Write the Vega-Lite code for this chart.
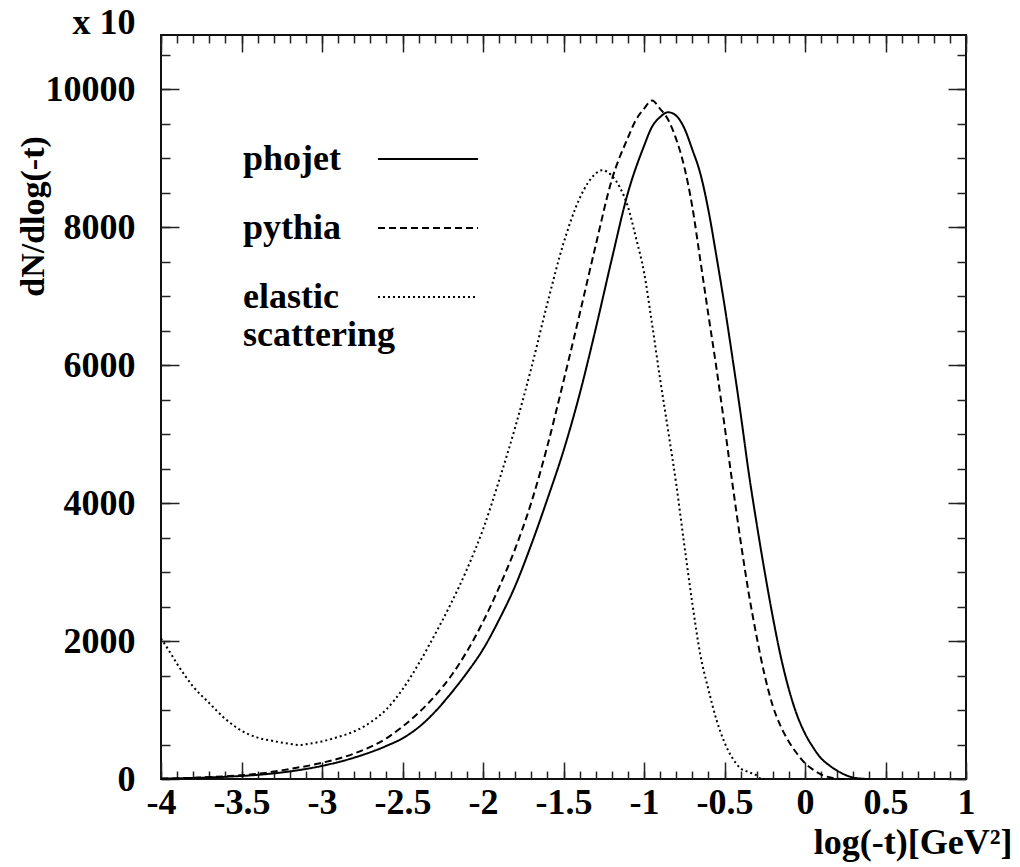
{
  "$schema": "https://vega.github.io/schema/vega-lite/v6.json",
  "width": 805,
  "height": 744,
  "autosize": {"type": "none"},
  "padding": {"left": 161, "top": 35, "right": 54, "bottom": 88},
  "background": "white",
  "config": {
    "view": {"stroke": "#111", "strokeWidth": 2},
    "axis": {
      "grid": false, "domain": false, "labelFlush": false, "labelOverlap": false,
      "labelFont": "Liberation Serif", "labelFontWeight": "bold", "labelFontSize": 36, "labelColor": "black",
      "tickColor": "#222", "tickWidth": 1.5,
      "titleFont": "Liberation Serif", "titleFontWeight": "bold", "titleFontSize": 34, "titleColor": "black"
    },
    "legend": {
      "orient": "none", "legendX": 216, "legendY": 73, "padding": 0,
      "symbolType": "stroke", "symbolSize": 10000, "symbolStrokeWidth": 2, "symbolStrokeColor": "black",
      "labelFont": "Liberation Serif", "labelFontWeight": "bold", "labelFontSize": 36, "labelColor": "black",
      "labelAlign": "left", "labelBaseline": "middle", "labelOffset": -236, "labelLimit": 0, "rowPadding": 0
    }
  },
  "data": {"values": [
    {"model": "phojet", "t": -4.0, "n": 5}, {"model": "phojet", "t": -3.8, "n": 15}, {"model": "phojet", "t": -3.6, "n": 32},
    {"model": "phojet", "t": -3.4, "n": 60}, {"model": "phojet", "t": -3.2, "n": 110}, {"model": "phojet", "t": -3.0, "n": 190},
    {"model": "phojet", "t": -2.8, "n": 310}, {"model": "phojet", "t": -2.6, "n": 480}, {"model": "phojet", "t": -2.5, "n": 590},
    {"model": "phojet", "t": -2.4, "n": 750}, {"model": "phojet", "t": -2.3, "n": 970}, {"model": "phojet", "t": -2.2, "n": 1240},
    {"model": "phojet", "t": -2.1, "n": 1540}, {"model": "phojet", "t": -2.0, "n": 1880}, {"model": "phojet", "t": -1.9, "n": 2310},
    {"model": "phojet", "t": -1.8, "n": 2800}, {"model": "phojet", "t": -1.7, "n": 3400}, {"model": "phojet", "t": -1.6, "n": 4060},
    {"model": "phojet", "t": -1.5, "n": 4760}, {"model": "phojet", "t": -1.4, "n": 5580}, {"model": "phojet", "t": -1.3, "n": 6530},
    {"model": "phojet", "t": -1.2, "n": 7540}, {"model": "phojet", "t": -1.1, "n": 8500}, {"model": "phojet", "t": -1.0, "n": 9180},
    {"model": "phojet", "t": -0.95, "n": 9460}, {"model": "phojet", "t": -0.9, "n": 9600}, {"model": "phojet", "t": -0.85, "n": 9670},
    {"model": "phojet", "t": -0.8, "n": 9620}, {"model": "phojet", "t": -0.75, "n": 9440}, {"model": "phojet", "t": -0.7, "n": 9130},
    {"model": "phojet", "t": -0.65, "n": 8780}, {"model": "phojet", "t": -0.6, "n": 8250}, {"model": "phojet", "t": -0.55, "n": 7580},
    {"model": "phojet", "t": -0.5, "n": 6870}, {"model": "phojet", "t": -0.45, "n": 6100}, {"model": "phojet", "t": -0.4, "n": 5300},
    {"model": "phojet", "t": -0.35, "n": 4450}, {"model": "phojet", "t": -0.3, "n": 3700}, {"model": "phojet", "t": -0.25, "n": 3000},
    {"model": "phojet", "t": -0.2, "n": 2350}, {"model": "phojet", "t": -0.15, "n": 1770}, {"model": "phojet", "t": -0.1, "n": 1300},
    {"model": "phojet", "t": -0.05, "n": 930}, {"model": "phojet", "t": 0.0, "n": 660}, {"model": "phojet", "t": 0.05, "n": 460},
    {"model": "phojet", "t": 0.1, "n": 300}, {"model": "phojet", "t": 0.15, "n": 200}, {"model": "phojet", "t": 0.2, "n": 120},
    {"model": "phojet", "t": 0.25, "n": 60}, {"model": "phojet", "t": 0.3, "n": 20}, {"model": "phojet", "t": 0.35, "n": 5},
    {"model": "phojet", "t": 0.4, "n": 0},

    {"model": "pythia", "t": -4.0, "n": 5}, {"model": "pythia", "t": -3.8, "n": 18}, {"model": "pythia", "t": -3.6, "n": 40},
    {"model": "pythia", "t": -3.4, "n": 75}, {"model": "pythia", "t": -3.2, "n": 145}, {"model": "pythia", "t": -3.0, "n": 235},
    {"model": "pythia", "t": -2.8, "n": 370}, {"model": "pythia", "t": -2.6, "n": 590}, {"model": "pythia", "t": -2.5, "n": 760},
    {"model": "pythia", "t": -2.4, "n": 960}, {"model": "pythia", "t": -2.3, "n": 1200}, {"model": "pythia", "t": -2.2, "n": 1490},
    {"model": "pythia", "t": -2.1, "n": 1850}, {"model": "pythia", "t": -2.0, "n": 2280}, {"model": "pythia", "t": -1.9, "n": 2780},
    {"model": "pythia", "t": -1.8, "n": 3340}, {"model": "pythia", "t": -1.7, "n": 4010}, {"model": "pythia", "t": -1.6, "n": 4830},
    {"model": "pythia", "t": -1.5, "n": 5770}, {"model": "pythia", "t": -1.4, "n": 6740}, {"model": "pythia", "t": -1.3, "n": 7740},
    {"model": "pythia", "t": -1.2, "n": 8690}, {"model": "pythia", "t": -1.1, "n": 9300}, {"model": "pythia", "t": -1.05, "n": 9560},
    {"model": "pythia", "t": -1.0, "n": 9720}, {"model": "pythia", "t": -0.95, "n": 9840}, {"model": "pythia", "t": -0.9, "n": 9720},
    {"model": "pythia", "t": -0.85, "n": 9560}, {"model": "pythia", "t": -0.8, "n": 9280}, {"model": "pythia", "t": -0.75, "n": 8880},
    {"model": "pythia", "t": -0.7, "n": 8300}, {"model": "pythia", "t": -0.65, "n": 7520}, {"model": "pythia", "t": -0.6, "n": 6730},
    {"model": "pythia", "t": -0.55, "n": 5960}, {"model": "pythia", "t": -0.5, "n": 5130}, {"model": "pythia", "t": -0.45, "n": 4270},
    {"model": "pythia", "t": -0.4, "n": 3450}, {"model": "pythia", "t": -0.35, "n": 2700}, {"model": "pythia", "t": -0.3, "n": 2060},
    {"model": "pythia", "t": -0.25, "n": 1500}, {"model": "pythia", "t": -0.2, "n": 1060}, {"model": "pythia", "t": -0.15, "n": 760},
    {"model": "pythia", "t": -0.1, "n": 540}, {"model": "pythia", "t": -0.05, "n": 370}, {"model": "pythia", "t": 0.0, "n": 230},
    {"model": "pythia", "t": 0.05, "n": 135}, {"model": "pythia", "t": 0.1, "n": 65}, {"model": "pythia", "t": 0.15, "n": 25},
    {"model": "pythia", "t": 0.2, "n": 5}, {"model": "pythia", "t": 0.25, "n": 0},

    {"model": "elastic scattering", "t": -4.0, "n": 2040}, {"model": "elastic scattering", "t": -3.95, "n": 1860},
    {"model": "elastic scattering", "t": -3.9, "n": 1670}, {"model": "elastic scattering", "t": -3.8, "n": 1340},
    {"model": "elastic scattering", "t": -3.7, "n": 1100}, {"model": "elastic scattering", "t": -3.6, "n": 870},
    {"model": "elastic scattering", "t": -3.5, "n": 700}, {"model": "elastic scattering", "t": -3.4, "n": 600},
    {"model": "elastic scattering", "t": -3.3, "n": 550}, {"model": "elastic scattering", "t": -3.2, "n": 510},
    {"model": "elastic scattering", "t": -3.14, "n": 493}, {"model": "elastic scattering", "t": -3.1, "n": 505},
    {"model": "elastic scattering", "t": -3.0, "n": 545}, {"model": "elastic scattering", "t": -2.9, "n": 610},
    {"model": "elastic scattering", "t": -2.8, "n": 690}, {"model": "elastic scattering", "t": -2.7, "n": 820},
    {"model": "elastic scattering", "t": -2.6, "n": 1010}, {"model": "elastic scattering", "t": -2.5, "n": 1300},
    {"model": "elastic scattering", "t": -2.4, "n": 1670}, {"model": "elastic scattering", "t": -2.3, "n": 2090},
    {"model": "elastic scattering", "t": -2.2, "n": 2540}, {"model": "elastic scattering", "t": -2.1, "n": 3040},
    {"model": "elastic scattering", "t": -2.0, "n": 3620}, {"model": "elastic scattering", "t": -1.9, "n": 4330},
    {"model": "elastic scattering", "t": -1.8, "n": 5100}, {"model": "elastic scattering", "t": -1.7, "n": 5960},
    {"model": "elastic scattering", "t": -1.6, "n": 6900}, {"model": "elastic scattering", "t": -1.5, "n": 7770},
    {"model": "elastic scattering", "t": -1.4, "n": 8420}, {"model": "elastic scattering", "t": -1.3, "n": 8780},
    {"model": "elastic scattering", "t": -1.26, "n": 8830}, {"model": "elastic scattering", "t": -1.2, "n": 8750},
    {"model": "elastic scattering", "t": -1.15, "n": 8580}, {"model": "elastic scattering", "t": -1.1, "n": 8300},
    {"model": "elastic scattering", "t": -1.05, "n": 7850}, {"model": "elastic scattering", "t": -1.0, "n": 7350},
    {"model": "elastic scattering", "t": -0.95, "n": 6600}, {"model": "elastic scattering", "t": -0.9, "n": 5800},
    {"model": "elastic scattering", "t": -0.85, "n": 5050}, {"model": "elastic scattering", "t": -0.8, "n": 4280},
    {"model": "elastic scattering", "t": -0.75, "n": 3400}, {"model": "elastic scattering", "t": -0.7, "n": 2550},
    {"model": "elastic scattering", "t": -0.65, "n": 1800}, {"model": "elastic scattering", "t": -0.6, "n": 1300},
    {"model": "elastic scattering", "t": -0.55, "n": 860}, {"model": "elastic scattering", "t": -0.5, "n": 530},
    {"model": "elastic scattering", "t": -0.45, "n": 300}, {"model": "elastic scattering", "t": -0.4, "n": 155},
    {"model": "elastic scattering", "t": -0.35, "n": 100}, {"model": "elastic scattering", "t": -0.3, "n": 50},
    {"model": "elastic scattering", "t": -0.28, "n": 10}, {"model": "elastic scattering", "t": -0.25, "n": 0}
  ]},
  "resolve": {"axis": {"x": "independent", "y": "independent"}},
  "layer": [
    {
      "mark": {"type": "line", "strokeWidth": 2, "color": "black", "interpolate": "monotone"},
      "encoding": {
        "x": {"field": "t", "type": "quantitative",
          "scale": {"domain": [-4, 1], "nice": false, "zero": false},
          "axis": {"orient": "bottom", "values": [-4, -3.5, -3, -2.5, -2, -1.5, -1, -0.5, 0, 0.5, 1],
            "tickSize": -17, "labelPadding": 23, "labelExpr": "toString(datum.value)",
            "title": "log(-t)[GeV²]", "titleFontSize": 36, "titleX": 851, "titleY": 74, "titleAlign": "right",
            "titleBaseline": "alphabetic", "titleAngle": 0}},
        "y": {"field": "n", "type": "quantitative",
          "scale": {"domain": [0, 10790], "nice": false, "zero": true},
          "axis": {"orient": "left", "values": [0, 2000, 4000, 6000, 8000, 10000],
            "tickSize": -18, "labelPadding": 44, "labelExpr": "toString(datum.value)",
            "title": "dN/dlog(-t)", "titleX": -128, "titleY": 181, "titleAngle": 270,
            "titleAlign": "center", "titleBaseline": "middle"}},
        "strokeDash": {"field": "model", "type": "nominal",
          "scale": {"domain": ["phojet", "pythia", "elastic scattering"], "range": [[1, 0], [7, 4], [2, 3]]},
          "legend": {"title": null,
            "labelExpr": "datum.label == 'elastic scattering' ? ['elastic', 'scattering'] : datum.label"}}
      }
    },
    {
      "mark": {"type": "point", "opacity": 0},
      "encoding": {
        "x": {"field": "t", "type": "quantitative",
          "scale": {"domain": [-4, 1], "nice": false, "zero": false},
          "axis": {"orient": "bottom", "values": [-4, -3.9, -3.8, -3.7, -3.6, -3.5, -3.4, -3.3, -3.2, -3.1, -3, -2.9, -2.8, -2.7, -2.6, -2.5, -2.4, -2.3, -2.2, -2.1, -2, -1.9, -1.8, -1.7, -1.6, -1.5, -1.4, -1.3, -1.2, -1.1, -1, -0.9, -0.8, -0.7, -0.6, -0.5, -0.4, -0.3, -0.2, -0.1, 0, 0.1, 0.2, 0.3, 0.4, 0.5, 0.6, 0.7, 0.8, 0.9, 1],
            "tickSize": -8, "labels": false, "title": null}},
        "y": {"field": "n", "type": "quantitative",
          "scale": {"domain": [0, 10790], "nice": false, "zero": true},
          "axis": {"orient": "left", "values": [0, 500, 1000, 1500, 2000, 2500, 3000, 3500, 4000, 4500, 5000, 5500, 6000, 6500, 7000, 7500, 8000, 8500, 9000, 9500, 10000, 10500],
            "tickSize": -9, "labels": false,
            "title": "x 10", "titleFontSize": 36, "titleX": -26, "titleY": -2, "titleAngle": 0,
            "titleAlign": "right", "titleBaseline": "alphabetic"}}
      }
    },
    {
      "mark": {"type": "point", "opacity": 0},
      "encoding": {
        "x": {"field": "t", "type": "quantitative",
          "scale": {"domain": [-4, 1], "nice": false, "zero": false},
          "axis": {"orient": "top", "values": [-4, -3.5, -3, -2.5, -2, -1.5, -1, -0.5, 0, 0.5, 1],
            "tickSize": -17, "labels": false, "title": null}},
        "y": {"field": "n", "type": "quantitative",
          "scale": {"domain": [0, 10790], "nice": false, "zero": true},
          "axis": {"orient": "right", "values": [0, 2000, 4000, 6000, 8000, 10000],
            "tickSize": -18, "labels": false, "title": null}}
      }
    },
    {
      "mark": {"type": "point", "opacity": 0},
      "encoding": {
        "x": {"field": "t", "type": "quantitative",
          "scale": {"domain": [-4, 1], "nice": false, "zero": false},
          "axis": {"orient": "top", "values": [-4, -3.9, -3.8, -3.7, -3.6, -3.5, -3.4, -3.3, -3.2, -3.1, -3, -2.9, -2.8, -2.7, -2.6, -2.5, -2.4, -2.3, -2.2, -2.1, -2, -1.9, -1.8, -1.7, -1.6, -1.5, -1.4, -1.3, -1.2, -1.1, -1, -0.9, -0.8, -0.7, -0.6, -0.5, -0.4, -0.3, -0.2, -0.1, 0, 0.1, 0.2, 0.3, 0.4, 0.5, 0.6, 0.7, 0.8, 0.9, 1],
            "tickSize": -8, "labels": false, "title": null}},
        "y": {"field": "n", "type": "quantitative",
          "scale": {"domain": [0, 10790], "nice": false, "zero": true},
          "axis": {"orient": "right", "values": [0, 500, 1000, 1500, 2000, 2500, 3000, 3500, 4000, 4500, 5000, 5500, 6000, 6500, 7000, 7500, 8000, 8500, 9000, 9500, 10000, 10500],
            "tickSize": -9, "labels": false, "title": null}}
      }
    }
  ]
}
